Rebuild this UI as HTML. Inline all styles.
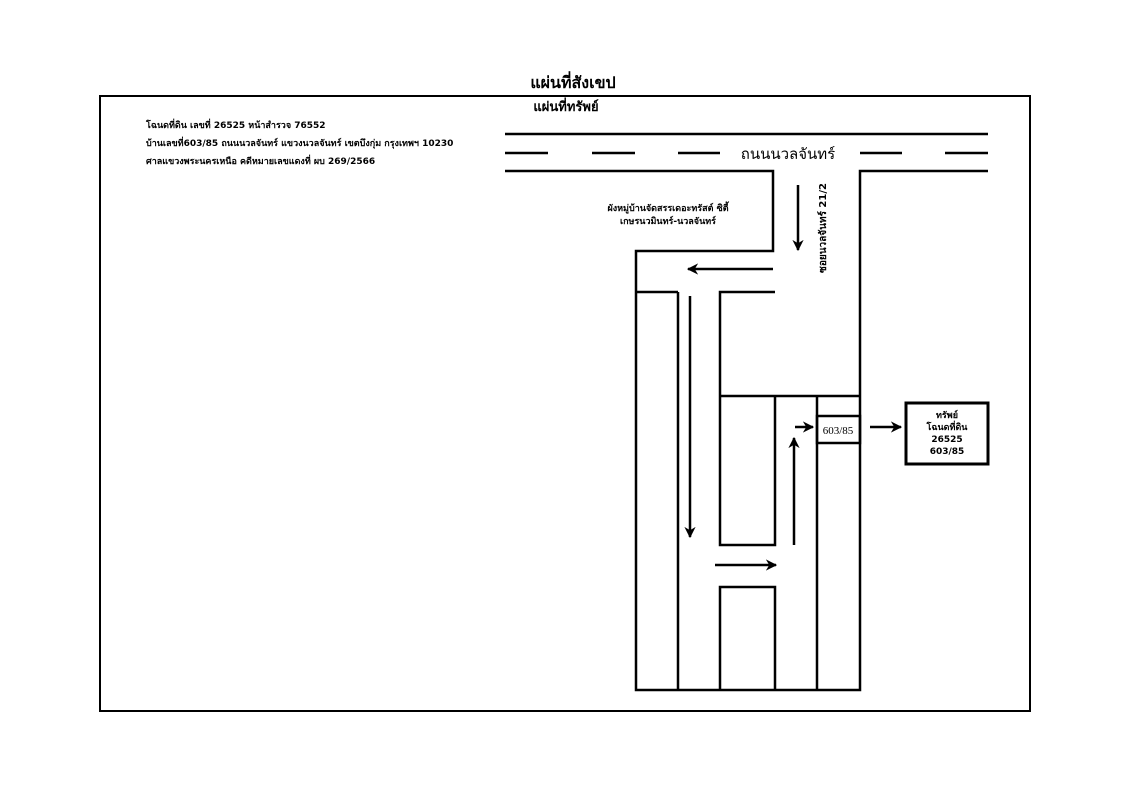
<!DOCTYPE html>
<html><head><meta charset="utf-8"><style>
html,body{margin:0;padding:0;background:#fff;}
svg{display:block;}
text{font-family:"DejaVu Sans","Liberation Sans",sans-serif;fill:#000;}
</style></head><body>
<svg width="1131" height="800" viewBox="0 0 1131 800" xmlns="http://www.w3.org/2000/svg">
<defs>
<marker id="ah" viewBox="0 0 10 10" refX="9" refY="5" markerWidth="4.5" markerHeight="4.5" orient="auto"><path d="M0,0 L10,5 L0,10 L3,5 z" fill="#000"/></marker>
</defs>
<text x="573" y="88" font-size="16" font-weight="bold" text-anchor="middle">แผ่นที่สังเขป</text>
<rect x="100" y="96" width="930" height="615" fill="none" stroke="#000" stroke-width="2"/>
<text x="566" y="111" font-size="13" font-weight="bold" text-anchor="middle">แผ่นที่ทรัพย์</text>
<g font-size="9" font-weight="bold">
<text x="146" y="128">โฉนดที่ดิน เลขที่  26525  หน้าสำรวจ  76552</text>
<text x="146" y="146">บ้านเลขที่603/85 ถนนนวลจันทร์ แขวงนวลจันทร์ เขตบึงกุ่ม กรุงเทพฯ 10230</text>
<text x="146" y="164">ศาลแขวงพระนครเหนือ คดีหมายเลขแดงที่ ผบ 269/2566</text>
</g>
<g stroke="#000" stroke-width="2.5" fill="none">
<line x1="505" y1="134" x2="988" y2="134"/>
<line x1="505" y1="153" x2="548" y2="153"/>
<line x1="592" y1="153" x2="635" y2="153"/>
<line x1="678" y1="153" x2="720" y2="153"/>
<line x1="860" y1="153" x2="902" y2="153"/>
<line x1="945" y1="153" x2="988" y2="153"/>
<polyline points="505,171 773,171 773,251 636,251 636,690 860,690 860,171 988,171"/>
<polyline points="636,292 678,292"/>
<line x1="678" y1="292" x2="678" y2="690"/>
<polyline points="775,292 720,292 720,545 775,545 775,396"/>
<line x1="720" y1="396" x2="860" y2="396"/>
<polyline points="720,690 720,587 775,587 775,690"/>
<line x1="817" y1="396" x2="817" y2="690"/>
<rect x="817" y="416" width="43" height="27"/>
<rect x="906" y="403" width="82" height="61" stroke-width="3"/>
</g>
<g stroke="#000" stroke-width="2.5" fill="none" marker-end="url(#ah)">
<line x1="798" y1="185" x2="798" y2="250"/>
<line x1="773" y1="269" x2="688" y2="269"/>
<line x1="690" y1="296" x2="690" y2="537"/>
<line x1="715" y1="565" x2="776" y2="565"/>
<line x1="794" y1="545" x2="794" y2="438"/>
<line x1="795" y1="427" x2="813" y2="427"/>
<line x1="870" y1="427" x2="901" y2="427"/>
</g>
<text x="788" y="159" font-size="15" text-anchor="middle">ถนนนวลจันทร์</text>
<text x="668" y="211" font-size="9" font-weight="bold" text-anchor="middle">ผังหมู่บ้านจัดสรรเดอะทรัสต์ ซิตี้</text>
<text x="668" y="224" font-size="9" font-weight="bold" text-anchor="middle">เกษรนวมินทร์-นวลจันทร์</text>
<text transform="translate(826,228) rotate(-90)" font-size="10" font-weight="bold" text-anchor="middle">ซอยนวลจันทร์ 21/2</text>
<text x="838" y="434" font-size="11" style="font-family:'Liberation Serif',serif" text-anchor="middle">603/85</text>
<g font-size="9" font-weight="bold" text-anchor="middle">
<text x="947" y="418">ทรัพย์</text>
<text x="947" y="430">โฉนดที่ดิน</text>
<text x="947" y="442">26525</text>
<text x="947" y="454">603/85</text>
</g>
</svg>
</body></html>
